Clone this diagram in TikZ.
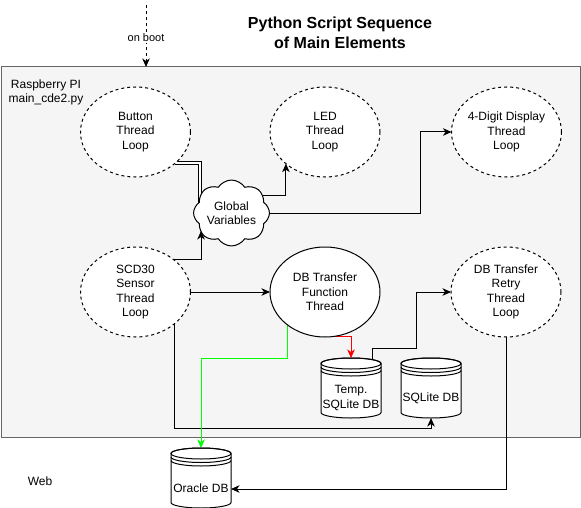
\documentclass[tikz,border=0pt]{standalone}
\usepackage{fontspec}
\setmainfont{Liberation Sans}
\usetikzlibrary{arrows.meta,shapes.geometric,shapes.symbols,calc}
\definecolor{pifill}{HTML}{F5F5F5}
\definecolor{piline}{HTML}{666666}
\definecolor{lgreen}{HTML}{00FF00}
\definecolor{lred}{HTML}{FF0000}
\pgfdeclarelayer{bg}
\pgfdeclarelayer{edges}
\pgfsetlayers{bg,edges,main}
\newcommand\dgfont{\fontsize{12}{14.5}\selectfont}
\newcommand\dbcyl[4]{%
  \node[cylbox] (#1) at (#2,#3) {};
  \draw[line width=1pt, fill=white, shift={(#1.center)}] (-30,-24.5) -- (-30,24.5)
     arc[start angle=180, end angle=0, x radius=30, y radius=5.5] -- (30,-24.5)
     arc[start angle=0, end angle=-180, x radius=30, y radius=5.5] -- cycle;
  \draw[line width=1pt, shift={(#1.center)}] (0,-24.5) ellipse[x radius=30, y radius=5.5];
  \draw[line width=1pt, shift={(#1.center)}] (-30,-21) arc[start angle=180, end angle=0, x radius=30, y radius=5.5];
  \draw[line width=1pt, shift={(#1.center)}] (-30,-17.5) arc[start angle=180, end angle=0, x radius=30, y radius=5.5];
  \node[font=\dgfont, align=center, inner sep=0pt] (#1T) at ([yshift=-10pt]#1.center) {#4};
}
\tikzset{
  cylbox/.style={rectangle, minimum width=60pt, minimum height=60pt, inner sep=0pt, outer sep=0pt},
  thread/.style={ellipse, draw=black, line width=1pt, fill=white, minimum width=110pt, minimum height=90pt,
     inner sep=-4pt, outer sep=0pt, align=center, font=\dgfont},
  loopth/.style={thread, dash pattern=on 3pt off 3pt},
  arr/.style={draw, line width=1pt, -{Stealth[length=8.5pt, width=7.5pt, inset=2.5pt]}},
  link/.style={draw, line width=1pt, double=white, double distance=2.5pt},
  pibox/.style={rectangle, draw=piline, fill=pifill, line width=1pt, minimum width=579pt, minimum height=370pt, inner sep=0pt, outer sep=0pt}
}
\begin{document}
\begin{tikzpicture}[x=1pt, y=-1pt]
\useasboundingbox (0,0) rectangle (581,508);

\begin{pgfonlayer}{bg}
  \node[pibox] (pi) at (290.5,252) {};
\end{pgfonlayer}

\node[font=\bfseries\fontsize{16}{20}\selectfont, align=center] (title) at (340,33) {Python Script Sequence\\of Main Elements};
\node[font=\dgfont, align=center] (pilabel) at (46,92.5) {Raspberry PI\\main\_cde2.py};
\node[font=\dgfont] (web) at (40,481) {Web};

\node[loopth] (btn) at (135.5,132) {Button\\Thread\\Loop};
\node[loopth] (led) at (325,132) {LED\\Thread\\Loop};
\node[loopth] (disp) at (506.5,132) {4-Digit Display\\Thread\\Loop};
\node[loopth] (scd) at (135.5,292) {SCD30\\Sensor\\Thread\\Loop};
\node[thread] (dbt) at (325,292) {DB Transfer\\Function\\Thread};
\node[loopth] (ret) at (506,292) {DB Transfer\\Retry\\Thread\\Loop};
\node[cloud, cloud puffs=8, cloud puff arc=115, aspect=1.25, draw=black, line width=1pt, fill=white,
      minimum width=73pt, minimum height=60pt, inner sep=0pt, align=center, font=\dgfont] (glob) at (231.5,213) {Global\\Variables};

\dbcyl{tmp}{351}{388}{Temp.\\SQLite DB}
\dbcyl{sql}{431}{388}{SQLite DB}
\dbcyl{ora}{201}{478}{Oracle DB}

\coordinate (boot) at (146,5);
\coordinate (gin) at (201,231);

\begin{pgfonlayer}{edges}
  \draw[arr, dash pattern=on 3pt off 3pt] (boot) -- (boot |- pi.north)
     node[pos=0.53, fill=white, inner sep=1pt, font=\fontsize{11}{13}\selectfont] (bootlbl) {on boot};
  \draw[link] (btn.-38) -| (200,205);
  \draw[arr] (245,195) -| (led.-141);
  \draw[arr] (glob.east) -| ([xshift=-31pt]disp.west) -- (disp.west);
  \draw[arr] (scd.40) -| (gin);
  \draw[arr] (scd) -- (dbt);
  \draw[arr] (scd.-39) |- ([yshift=-10pt]sql.south) -- (sql.south);
  \draw[arr, lred] (dbt.-85) -| (tmp.north);
  \draw[arr, lgreen] (dbt.-139.5) |- (ora.north |- tmp.north) -- (ora.north);
  \draw[arr] ([xshift=21pt,yshift=-2pt]tmp.north) |- (416,348) |- (ret.west);
  \draw[arr] (ret.south) |- ([yshift=-11pt]ora.east);
\end{pgfonlayer}
\end{tikzpicture}
\end{document}
